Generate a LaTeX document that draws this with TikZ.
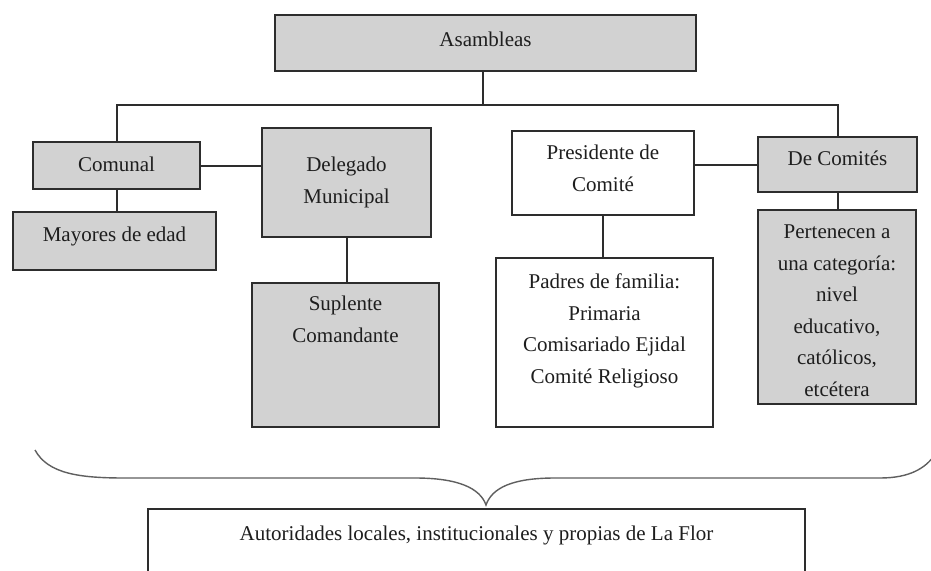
\documentclass[tikz,border=0pt]{standalone}
\usepackage{fontspec}
\setmainfont{Liberation Serif}
\definecolor{boxgray}{RGB}{210,210,210}
\definecolor{linegray}{RGB}{45,45,45}
\definecolor{bracegray}{RGB}{95,95,95}
\definecolor{textgray}{RGB}{30,30,30}
\tikzset{
  box/.style={draw=linegray, line width=2pt, inner sep=0pt, rectangle},
  gbox/.style={box, fill=boxgray},
  wbox/.style={box, fill=white},
  txt/.style={inner sep=0pt, align=center, text=textgray,
    font=\fontsize{21}{31.5}\selectfont, anchor=base},
  conn/.style={draw=linegray, line width=2pt},
  bracestyle/.style={draw=bracegray, line width=1.4pt}
}
\begin{document}
\begin{tikzpicture}[x=1pt,y=-1pt]
\clip (0,0) rectangle (931,570);
\fill[white] (0,0) rectangle (931,570);

% boxes
\node[gbox, minimum width=421pt, minimum height=56pt] (asam) at (485.5,43) {};
\node[gbox, minimum width=167pt, minimum height=47pt] (comunal) at (116.5,165.5) {};
\node[gbox, minimum width=203pt, minimum height=58pt] (mayores) at (114.5,241) {};
\node[gbox, minimum width=169pt, minimum height=109pt] (delegado) at (346.5,182.5) {};
\node[gbox, minimum width=187pt, minimum height=144pt] (suplente) at (345.5,355) {};
\node[wbox, minimum width=182pt, minimum height=84pt] (presidente) at (603,173) {};
\node[gbox, minimum width=159pt, minimum height=55pt] (decom) at (837.5,164.5) {};
\node[gbox, minimum width=158pt, minimum height=194pt] (pert) at (837,307) {};
\node[wbox, minimum width=217pt, minimum height=169pt] (padres) at (604.5,342.5) {};
\node[wbox, minimum width=657pt, minimum height=102pt] (autor) at (476.5,560) {};

% texts (base anchor = baseline of the last line)
\node[txt] (asam-t) at (485.5,46) {Asambleas};
\node[txt] (comunal-t) at (116.5,171) {Comunal};
\node[txt] (mayores-t) at (114.5,241) {Mayores de edad};
\node[txt] (delegado-t) at (346.5,203) {Delegado\\Municipal};
\node[txt] (suplente-t) at (345.5,342) {Suplente\\Comandante};
\node[txt] (presidente-t) at (603,191) {Presidente de\\Comité};
\node[txt] (decom-t) at (837.5,165) {De Comités};
\node[txt] (pert-t) at (837,396) {Pertenecen a\\una categoría:\\nivel\\educativo,\\católicos,\\etcétera};
\node[txt] (padres-t) at (604.5,383) {Padres de familia:\\Primaria\\Comisariado Ejidal\\Comité Religioso};
\node[txt] (autor-t) at (476.5,540) {Autoridades locales, institucionales y propias de La Flor};

% connectors
\coordinate (bus) at (483,105);
\draw[conn] (asam.south -| bus) -- (bus);
\draw[conn] (comunal.north) |- (bus) -| (decom.north);
\draw[conn] (comunal.south) -- (comunal.south |- mayores.north);
\draw[conn] (comunal.east) -- (comunal.east -| delegado.west);
\draw[conn] (delegado.south) -- (delegado.south |- suplente.north);
\draw[conn] (decom.west) -- (decom.west -| presidente.east);
\draw[conn] (presidente.south) -- (presidente.south |- padres.north);
\draw[conn] (decom.south) -- (decom.south |- pert.north);

% brace
\coordinate (bl) at (35,450);
\coordinate (tip) at (486,505);
\coordinate (br) at (934,456);
\draw[bracestyle] (bl) .. controls (48,474) and (80,478) .. (125,478)
  -- (415,478) .. controls (458,478) and (480,488) .. (tip)
  .. controls (492,488) and (512,478) .. (555,478)
  -- (880,478) .. controls (910,478) and (925,468) .. (br);
\end{tikzpicture}
\end{document}
